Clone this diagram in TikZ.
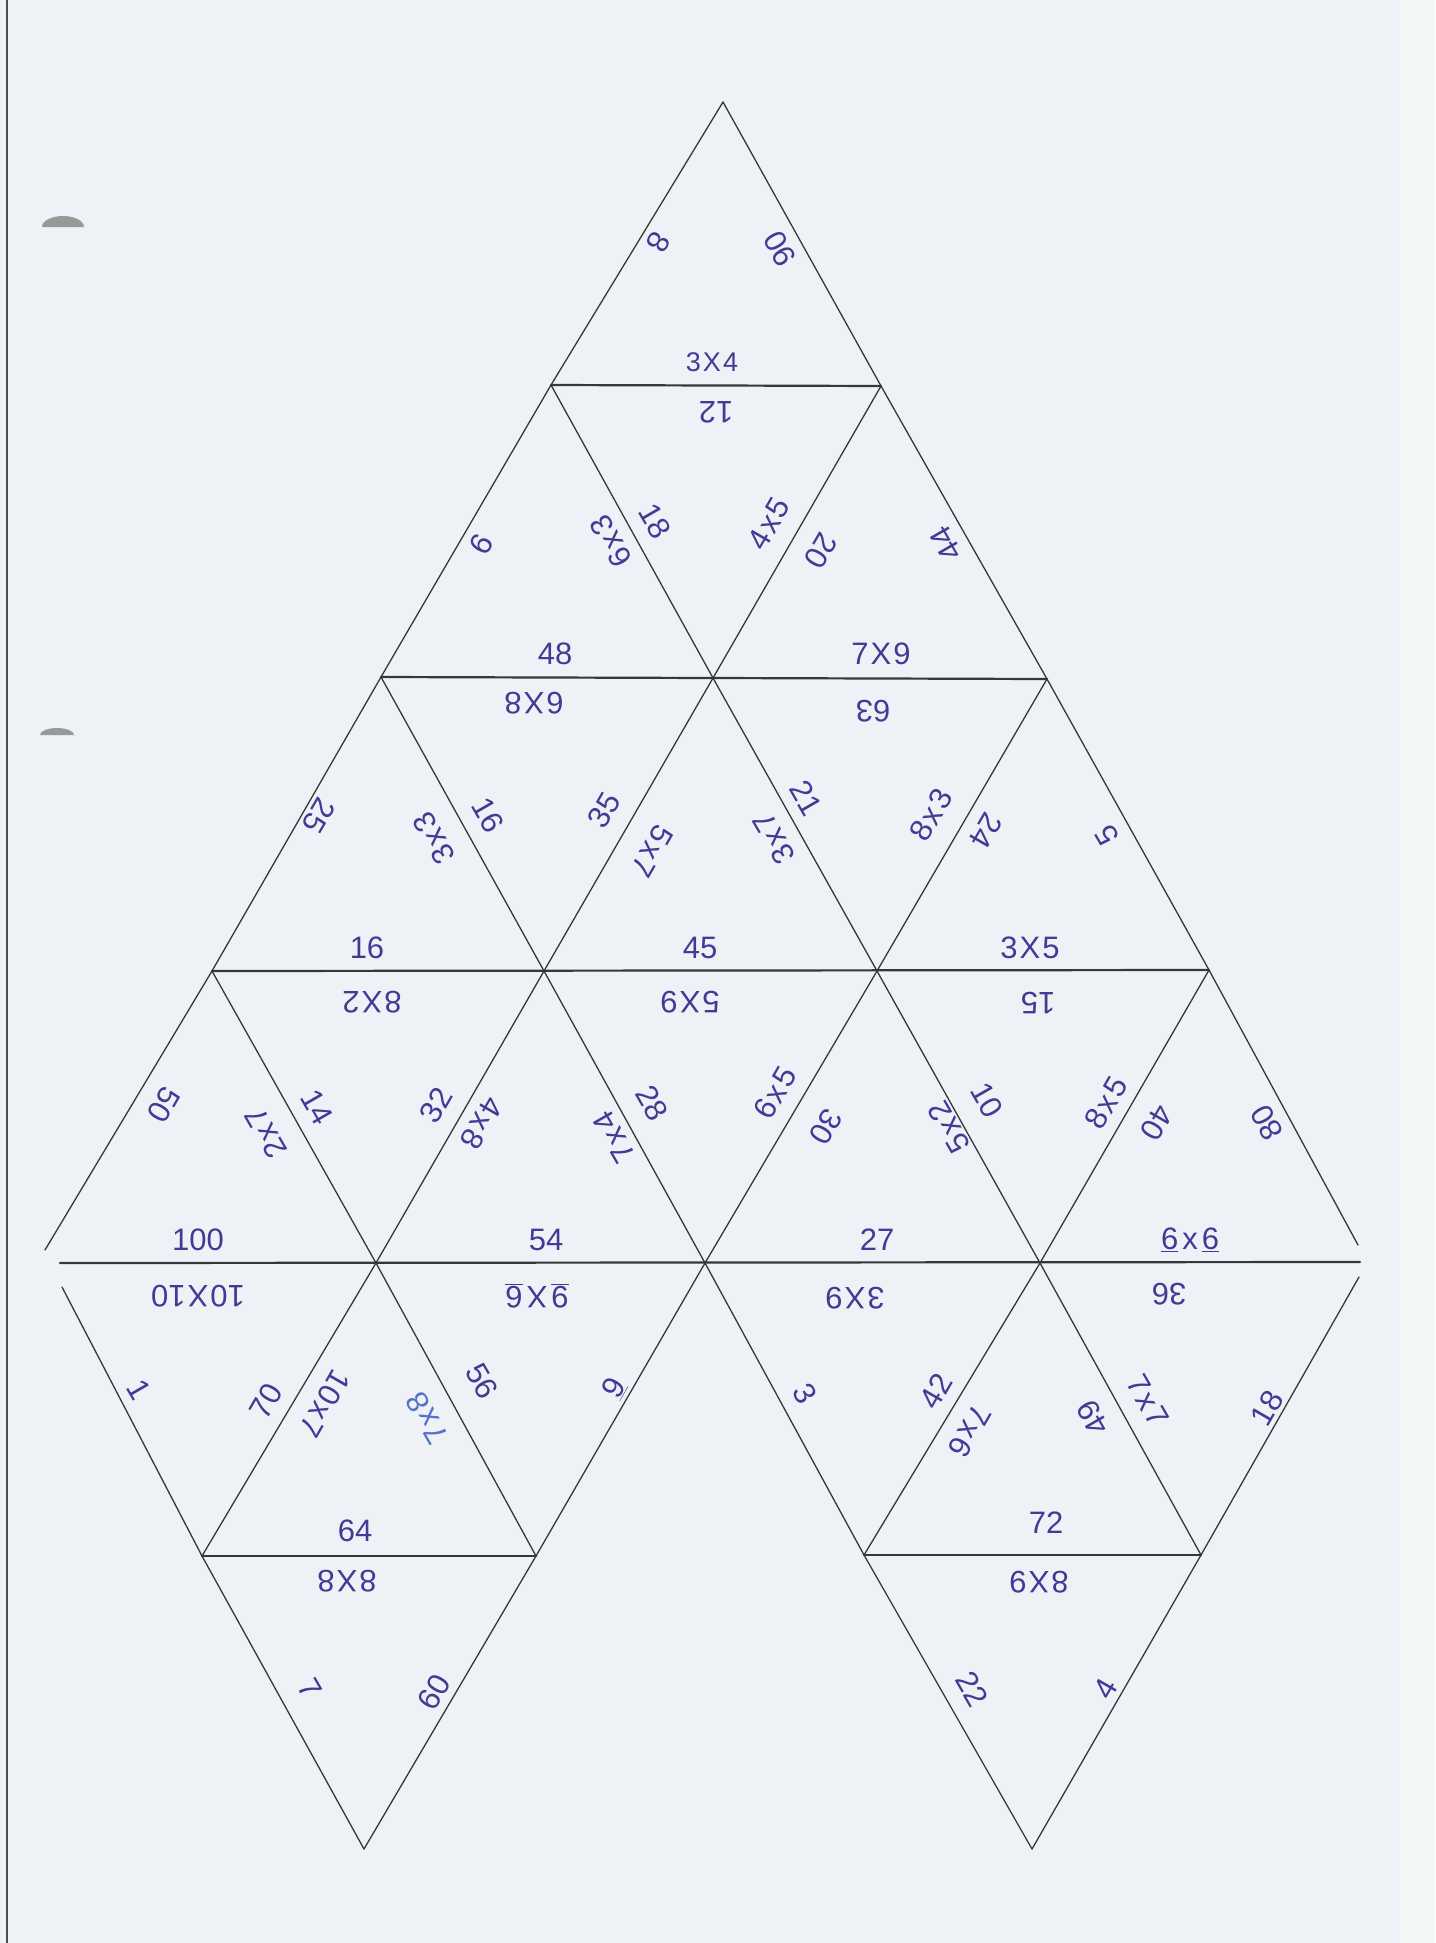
\documentclass[tikz,border=0pt]{standalone}
\usepackage{fontspec}
\setmainfont{Liberation Sans}
\definecolor{paper}{RGB}{238,242,246}
\definecolor{paperR}{RGB}{243,247,245}
\definecolor{linecol}{RGB}{55,55,58}
\definecolor{ink}{RGB}{68,58,150}
\definecolor{inkb}{RGB}{85,115,200}
\newcommand\mulx{\kern2pt x\kern2pt}
\newcommand\mulX{\kern2pt X\kern2pt}
\tikzset{
  edge/.style={draw=linecol, line width=1.3pt, line cap=round, line join=round},
  hedge/.style={draw=linecol, line width=2.2pt, line cap=round},
  lab/.style={text=ink, font=\fontsize{31}{31}\selectfont, inner sep=0pt, anchor=center},
  smalllab/.style={lab, font=\fontsize{27}{27}\selectfont},
}
\begin{document}
\begin{tikzpicture}[x=1pt,y=-1pt]
% paper
\fill[paper] (0,0) rectangle (1435,1943);
\fill[paperR] (1400,0) rectangle (1435,1943);
\useasboundingbox (0,0) rectangle (1435,1943);
\draw[gray!60!black, line width=2pt] (7,0) -- (7,1943);
% punch-hole shadows
\fill[gray!80] (42,227) arc[start angle=180, end angle=360, x radius=21, y radius=11] -- cycle;
\fill[gray!80] (40,735) arc[start angle=180, end angle=360, x radius=17, y radius=7] -- cycle;

% vertices
\coordinate (P0) at (723,102);
\coordinate (A1) at (551,385);  \coordinate (B1) at (881,386);
\coordinate (A2) at (381,677);  \coordinate (B2) at (713,678);  \coordinate (C2) at (1047,679);
\coordinate (A3) at (212,971);  \coordinate (B3) at (544,971);  \coordinate (C3) at (877,971);  \coordinate (D3) at (1209,970);
\coordinate (LE) at (45,1250);  \coordinate (HL) at (60,1263);  \coordinate (LL) at (62,1287);
\coordinate (B4) at (376,1263); \coordinate (C4) at (705,1263); \coordinate (D4) at (1040,1263); \coordinate (E4) at (1360,1262);
\coordinate (RE) at (1358,1245); \coordinate (RL) at (1359,1277);
\coordinate (A5) at (202,1556); \coordinate (B5) at (536,1556); \coordinate (C5) at (864,1555); \coordinate (D5) at (1201,1555);
\coordinate (A6) at (364,1849); \coordinate (B6) at (1032,1849);

% horizontal lines
\draw[hedge] (A1) -- (B1);
\draw[hedge] (A2) -- (C2);
\draw[hedge] (A3) -- (D3);
\draw[hedge] (HL) -- (E4);
\draw[hedge] (A5) -- (B5);
\draw[hedge] (C5) -- (D5);
% "/" lines
\draw[edge] (P0) -- (A1) -- (A2) -- (A3) -- (LE);
\draw[edge] (B1) -- (B2) -- (B3) -- (B4) -- (A5);
\draw[edge] (C2) -- (C3) -- (C4) -- (B5) -- (A6);
\draw[edge] (D3) -- (D4) -- (C5);
\draw[edge] (RL) -- (D5) -- (B6);
% "\" lines
\draw[edge] (P0) -- (B1) -- (C2) -- (D3) -- (RE);
\draw[edge] (A1) -- (B2) -- (C3) -- (D4) -- (D5);
\draw[edge] (A2) -- (B3) -- (C4) -- (C5) -- (B6);
\draw[edge] (A3) -- (B4) -- (B5);
\draw[edge] (LL) -- (A5) -- (A6);

% labels: top triangle
\node[lab, rotate=-120] (n1) at (658,242) {8};
\node[lab, rotate=120]  (n2) at (780,249) {90};
\node[smalllab]         (n3) at (712,362) {3\mulX 4};
% row 1
\node[lab, rotate=180]  (n4) at (716,412) {12};
\node[lab, rotate=-60]  (n5) at (655,521) {18};
\node[lab, rotate=60]   (n6) at (769,524) {4\mulx 5};
\node[lab, rotate=-120] (n7) at (481,544) {9};
\node[lab, rotate=120]  (n8) at (611,541) {6\mulx 3};
\node[lab]              (n9) at (555,654) {48};
\node[lab, rotate=-120] (n10) at (821,551) {20};
\node[lab, rotate=120]  (n11) at (946,544) {44};
\node[lab]              (n12) at (881,654) {7\mulX 9};
% row 2
\node[lab, rotate=180]  (n13) at (534,703) {6\mulX 8};
\node[lab, rotate=180]  (n14) at (873,711) {63};
\node[lab, rotate=-120] (n15) at (319,816) {25};
\node[lab, rotate=120]  (n16) at (434,838) {3\mulx 3};
\node[lab, rotate=-60]  (n17) at (488,815) {16};
\node[lab, rotate=60]   (n18) at (604,810) {35};
\node[lab, rotate=-120] (n19) at (652,851) {5\mulx 7};
\node[lab, rotate=120]  (n20) at (774,838) {3\mulx 7};
\node[lab, rotate=-60]  (n21) at (806,798) {21};
\node[lab, rotate=60]   (n22) at (931,815) {8\mulx 3};
\node[lab, rotate=-120] (n23) at (986,831) {24};
\node[lab, rotate=120]  (n24) at (1107,835) {5};
\node[lab]              (n25) at (367,948) {16};
\node[lab]              (n26) at (700,948) {45};
\node[lab]              (n27) at (1030,948) {3\mulX 5};
% row 3
\node[lab, rotate=180]  (n28) at (372,1002) {8\mulX 2};
\node[lab, rotate=180]  (n29) at (690,1002) {5\mulX 9};
\node[lab, rotate=180]  (n30) at (1038,1003) {15};
\node[lab, rotate=-120] (n31) at (164,1105) {50};
\node[lab, rotate=120]  (n32) at (266,1133) {2\mulx 7};
\node[lab, rotate=-60]  (n33) at (317,1107) {14};
\node[lab, rotate=60]   (n34) at (436,1105) {32};
\node[lab, rotate=-120] (n35) at (482,1123) {4\mulx 8};
\node[lab, rotate=120]  (n36) at (614,1137) {7\mulx 4};
\node[lab, rotate=-60]  (n37) at (652,1103) {28};
\node[lab, rotate=60]   (n38) at (775,1093) {6\mulx 5};
\node[lab, rotate=-120] (n39) at (826,1127) {30};
\node[lab, rotate=120]  (n40) at (949,1127) {5\mulx 2};
\node[lab, rotate=-60]  (n41) at (987,1100) {10};
\node[lab, rotate=60]   (n42) at (1106,1103) {8\mulx 5};
\node[lab, rotate=-120] (n43) at (1157,1123) {40};
\node[lab, rotate=120]  (n44) at (1267,1123) {80};
\node[lab]              (n45) at (198,1240) {100};
\node[lab]              (n46) at (546,1240) {54};
\node[lab]              (n47) at (877,1240) {27};
\node[lab]              (n48) at (1190,1240) {\underline{6}\kern4pt x\kern4pt\underline{6}};
% row 4
\node[lab, rotate=180]  (n49) at (198,1296) {10\mulX 10};
\node[lab, rotate=180]  (n50) at (537,1296) {\underline{9}\kern4pt X\kern4pt\underline{6}};
\node[lab, rotate=180]  (n51) at (855,1298) {3\mulX 9};
\node[lab, rotate=180]  (n52) at (1169,1294) {36};
\node[lab, rotate=-60]  (n53) at (139,1390) {1};
\node[lab, rotate=60]   (n54) at (266,1401) {70};
\node[lab, rotate=-120] (n55) at (325,1404) {10\mulx 7};
\node[lab, rotate=120, text=inkb] (n56) at (427,1418) {7\mulx 8};
\node[lab, rotate=-60]  (n57) at (482,1381) {56};
\node[lab, rotate=60]   (n58) at (614,1388) {\underline{9}};
\node[lab, rotate=-60]  (n59) at (805,1394) {3};
\node[lab, rotate=60]   (n60) at (936,1391) {42};
\node[lab, rotate=-120] (n61) at (970,1431) {7\mulx 6};
\node[lab, rotate=120]  (n62) at (1093,1418) {49};
\node[lab, rotate=-60]  (n63) at (1148,1401) {7\mulx 7};
\node[lab, rotate=60]   (n64) at (1267,1408) {18};
\node[lab]              (n65) at (355,1531) {64};
\node[lab]              (n66) at (1046,1523) {72};
% row 5
\node[lab, rotate=180]  (n67) at (347,1581) {8\mulX 8};
\node[lab, rotate=180]  (n68) at (1039,1582) {8\mulX 9};
\node[lab, rotate=-60]  (n69) at (310,1689) {7};
\node[lab, rotate=60]   (n70) at (434,1692) {60};
\node[lab, rotate=-60]  (n71) at (972,1689) {22};
\node[lab, rotate=60]   (n72) at (1106,1689) {4};
\end{tikzpicture}
\end{document}
